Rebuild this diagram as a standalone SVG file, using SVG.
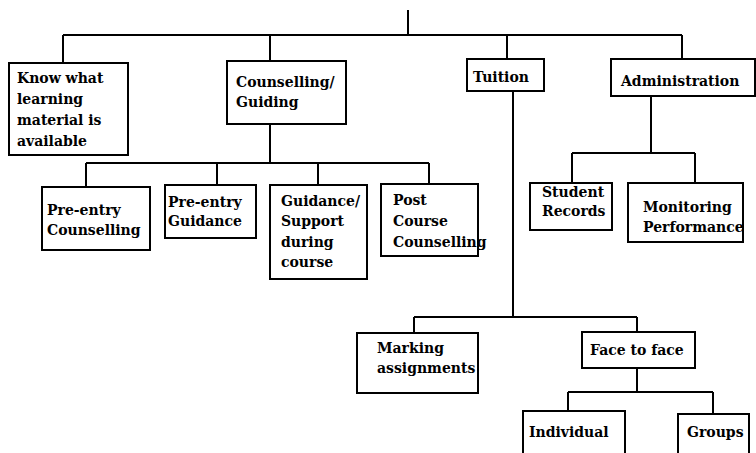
<svg xmlns="http://www.w3.org/2000/svg" width="756" height="453" viewBox="0 0 756 453">
<style>
rect{fill:#fff;stroke:#000;stroke-width:2}
#connectors path{fill:none;stroke:#000;stroke-width:2}
text{font-family:"DejaVu Serif","Liberation Serif",serif;font-weight:bold;font-size:14px;fill:#000}
</style>
<rect x="0" y="0" width="756" height="453" style="stroke:none"/>
<g id="connectors">
<path d="M408 10V35M63 35H682M63 35V63M270 35V61M507 35V59M682 35V59"/>
<path d="M270 124V163M86 163H429M86 163V187M217 163V185M318 163V185M429 163V184"/>
<path d="M651 96V153M572 153H695M572 153V183M695 153V183"/>
<path d="M513 91V317M414 317H637M414 317V333M637 317V332"/>
<path d="M637 368V392M568 392H713M568 392V411M713 392V414"/>
</g>
<g id="know"><rect x="9" y="63" width="119" height="92"/><text x="17" y="83">Know what</text><text x="17" y="104">learning</text><text x="17" y="125">material is</text><text x="17" y="146">available</text></g>
<g id="counselling"><rect x="227" y="61" width="119" height="63"/><text x="236" y="87">Counselling/</text><text x="236" y="107">Guiding</text></g>
<g id="tuition"><rect x="467" y="59" width="77" height="32"/><text x="473" y="82">Tuition</text></g>
<g id="administration"><rect x="611" y="59" width="144" height="37"/><text x="621" y="86">Administration</text></g>
<g id="preentry-counselling"><rect x="42" y="187" width="108" height="63"/><text x="47" y="215">Pre-entry</text><text x="47" y="235">Counselling</text></g>
<g id="preentry-guidance"><rect x="165" y="185" width="91" height="53"/><text x="168" y="207">Pre-entry</text><text x="168" y="226">Guidance</text></g>
<g id="guidance-support"><rect x="270" y="185" width="97" height="94"/><text x="281" y="206">Guidance/</text><text x="281" y="226">Support</text><text x="281" y="247">during</text><text x="281" y="267">course</text></g>
<g id="post-course"><rect x="381" y="184" width="97" height="72"/><text x="393" y="205">Post</text><text x="393" y="226">Course</text><text x="393" y="247">Counselling</text></g>
<g id="student-records"><rect x="530" y="183" width="82" height="47"/><text x="542" y="197">Student</text><text x="542" y="216">Records</text></g>
<g id="monitoring"><rect x="628" y="183" width="115" height="59"/><text x="643" y="212">Monitoring</text><text x="643" y="232">Performance</text></g>
<g id="marking"><rect x="357" y="333" width="121" height="60"/><text x="377" y="353">Marking</text><text x="377" y="373">assignments</text></g>
<g id="face"><rect x="582" y="332" width="113" height="36"/><text x="590" y="355">Face to face</text></g>
<g id="individual"><rect x="523" y="411" width="102" height="50"/><text x="529" y="437">Individual</text></g>
<g id="groups"><rect x="678" y="414" width="71" height="50"/><text x="687" y="437">Groups</text></g>
</svg>
